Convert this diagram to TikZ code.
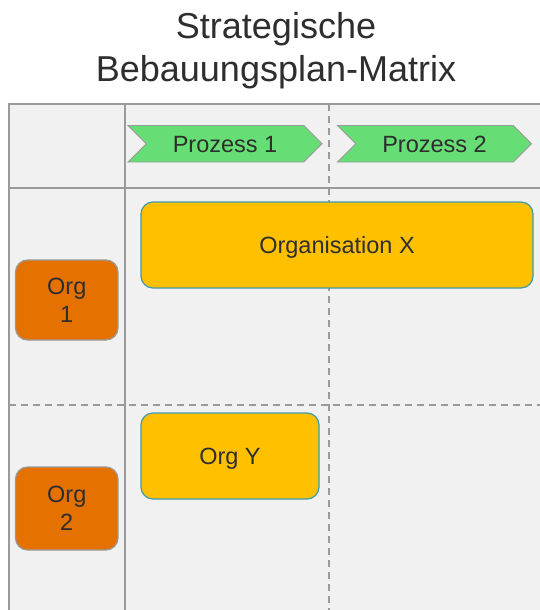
\documentclass[tikz,border=0pt]{standalone}
\usepackage{fontspec}
\setmainfont{Liberation Sans}
\usetikzlibrary{shapes.symbols}
\definecolor{bggrey}{HTML}{F1F1F1}
\definecolor{linegrey}{HTML}{9A9A9A}
\definecolor{procgreen}{HTML}{67DD75}
\definecolor{orgyellow}{HTML}{FFC000}
\definecolor{orgorange}{HTML}{E57200}
\definecolor{tealborder}{HTML}{3A9BAF}
\definecolor{txt}{HTML}{2E2E2E}
\tikzset{
  gridsolid/.style={draw=linegrey, line width=1.1pt},
  griddash/.style={draw=linegrey, line width=1.1pt, dash pattern=on 7pt off 5pt},
  proc/.style={shape=signal, signal to=east, signal from=west, signal pointer angle=90,
    draw=linegrey, fill=procgreen, line width=0.9pt, minimum width=194pt, minimum height=36.5pt,
    inner sep=0pt, text=txt, text height=17pt, text depth=0pt, font=\fontsize{23.5}{28}\selectfont},
  orgbox/.style={rectangle, rounded corners=12pt, draw=tealborder, fill=orgyellow, line width=1.2pt,
    inner sep=0pt, text=txt, text height=17pt, text depth=0pt, font=\fontsize{23.5}{28}\selectfont},
  rowbox/.style={rectangle, rounded corners=12pt, draw=linegrey, fill=orgorange, line width=1.2pt,
    inner sep=0pt, text=txt, align=center, font=\fontsize{23.5}{28}\selectfont},
}
\begin{document}
\begin{tikzpicture}[x=1pt,y=-1pt]
\useasboundingbox (0,0) rectangle (540,610);
\clip (0,0) rectangle (540,610);
\fill[white] (0,0) rectangle (540,610);
% title
\node[anchor=north, inner sep=0pt, align=center, text=txt, font=\fontsize{36}{43}\selectfont] (title) at (276,12.5) {Strategische\\Bebauungsplan-Matrix};
% matrix frame
\draw[draw=linegrey, fill=bggrey, line width=1.3pt] (9,104) rectangle (560,630);
\draw[gridsolid] (125,104) -- (125,620);
\draw[gridsolid] (9,188) -- (560,188);
\draw[griddash] (329,104) -- (329,620);
\draw[griddash] (9,405) -- (560,405);
% process chevrons
\node[proc] (p1) at (225,143.75) {Prozess 1};
\node[proc] (p2) at (434.5,143.75) {Prozess 2};
% row headers
\node[rowbox, minimum width=102.5pt, minimum height=80pt] (org1) at (66.75,300) {Org\\1};
\node[rowbox, minimum width=102.5pt, minimum height=83pt] (org2) at (66.75,508.5) {Org\\2};
% organisation boxes
\node[orgbox, minimum width=392pt, minimum height=86pt] (orgx) at (337,245) {Organisation X};
\node[orgbox, minimum width=178pt, minimum height=86pt] (orgy) at (230,456) {Org Y};
\end{tikzpicture}
\end{document}
